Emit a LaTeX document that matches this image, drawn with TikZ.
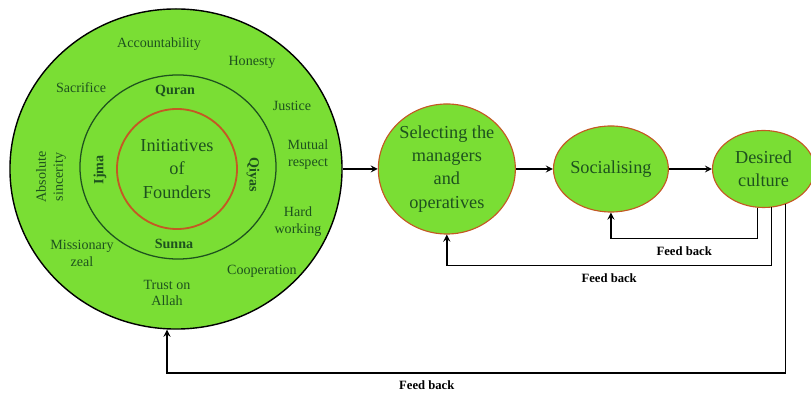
\documentclass[tikz,border=0pt]{standalone}
\usepackage{fontspec}
\setmainfont{Liberation Serif}
\usepackage{xcolor}
\usepackage{tikz}
\usetikzlibrary{shapes.geometric, arrows, positioning, calc}

\definecolor{leaf}{RGB}{122,222,52}
\definecolor{ink}{RGB}{30,82,30}
\definecolor{rim}{RGB}{196,88,36}

\begin{document}
\begin{tikzpicture}[
        x=0.025cm, y=-0.025cm,
        stage/.style={ellipse, draw=rim, line width=0.8pt, fill=leaf, text=ink, inner sep=0pt, align=center, font=\fontsize{13}{16.5}\selectfont},
        value/.style={text=ink, align=center, inner sep=1pt, font=\fontsize{10}{12}\selectfont},
        source/.style={value, font=\fontsize{10}{12}\selectfont\bfseries},
        arrow/.style={->, line width=1.2pt},
        fb/.style={font=\fontsize{9}{11}\selectfont\bfseries, inner sep=1pt},
        >=stealth
    ]
    \useasboundingbox (0,0) rectangle (811,398);

    % rings of values
    \node (values) [ellipse, draw, line width=1pt, fill=leaf, minimum width=8.3cm, minimum height=8cm] at (176,169) {};
    \node (sources) [ellipse, draw=ink, line width=0.9pt, minimum width=4.9cm, minimum height=4.6cm] at (178,167) {};
    \node (founders) [circle, draw=rim, line width=1.3pt, minimum size=3cm, inner sep=0pt, text=ink, align=center, font=\fontsize{13}{16.5}\selectfont] at (177,169) {Initiatives\\of\\Founders};

    \node (acc) [value] at (159,44) {Accountability};
    \node (hon) [value] at (252,62) {Honesty};
    \node (sac) [value] at (81,88) {Sacrifice};
    \node (jus) [value] at (292,106) {Justice};
    \node (mut) [value] at (308,155) {Mutual\\respect};
    \node (abs) [value, rotate=90] at (51,177) {Absolute\\sincerity};
    \node (har) [value] at (298,222) {Hard\\working};
    \node (mis) [value] at (82,253) {Missionary\\zeal};
    \node (coo) [value] at (262,271) {Cooperation};
    \node (tru) [value] at (167,293) {Trust on\\Allah};

    \node (qur) [source] at (175,91) {Quran};
    \node (sun) [source] at (174,244) {Sunna};
    \node (ijm) [source, rotate=90] at (100,170) {Ijma};
    \node (qiy) [source, rotate=-90] at (253,175) {Qiyas};

    % stages
    \node (select) [stage, minimum width=3.425cm, minimum height=3.25cm, right=0.875cm of values] {Selecting the\\managers\\and\\operatives};
    \node (social) [stage, minimum width=2.85cm, minimum height=2.15cm, right=0.925cm of select] {Socialising};
    \node (desired) [stage, minimum width=2.55cm, minimum height=1.925cm, right=1.075cm of social] {Desired\\culture};

    \draw[arrow] (values) -- (select);
    \draw[arrow] (select) -- (social);
    \draw[arrow] (social) -- (desired);

    % feed back loops
    \draw[arrow] ($(desired.south)+(-6,0)$) |- node[fb, pos=0.75, below=4pt] {Feed back} ($(social.south)+(0,26)$) -- (social.south);
    \draw[arrow] ($(desired.south)+(8,-1)$) |- node[fb, pos=0.75, below=4pt] {Feed back} ($(select.south)+(0,31)$) -- (select.south);
    \draw[arrow] ($(desired.south)+(22,-4)$) |- node[fb, pos=0.79, below=4pt] {Feed back} ($(values.south)+(-9,43)$) -- ($(values.south)+(-9,0)$);

\end{tikzpicture}
\end{document}
